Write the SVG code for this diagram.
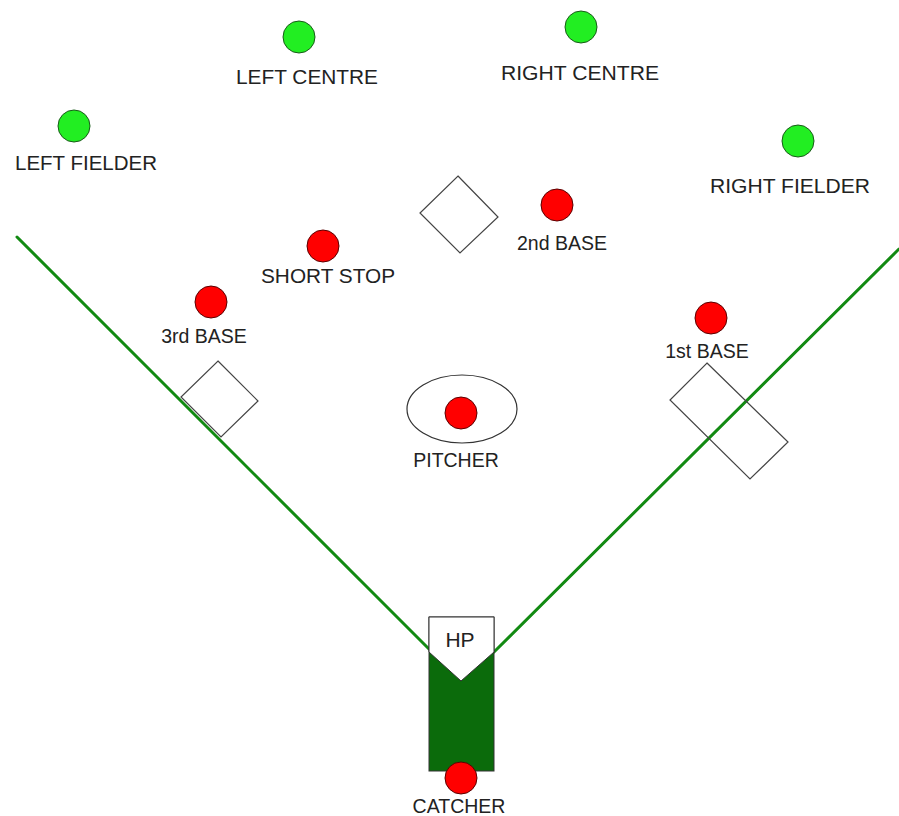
<svg xmlns="http://www.w3.org/2000/svg" width="899" height="816" viewBox="0 0 899 816">
<style>
.txt{font-family:"Liberation Sans",Arial,sans-serif;font-size:19.5px;fill:#222;text-anchor:middle}
.red{fill:#ff0000;stroke:#5a0000;stroke-width:1}
.grn{fill:#22ee22;stroke:#1a5a1a;stroke-width:1}
.base{fill:#fff;stroke:#444;stroke-width:1.2}
.line{stroke:#128a12;stroke-width:3;stroke-linecap:round;fill:none}
</style>
<rect width="899" height="816" fill="#fff"/>
<g id="connectors">
<line class="line" x1="17" y1="237" x2="429" y2="649"/>
<line class="line" x1="899" y1="249" x2="494" y2="652"/>
</g>
<g id="base3"><polygon class="base" points="218,361 258,401 221,437 181,397"/></g>
<g id="base2"><polygon class="base" points="458,176 498,217 460,253 420,213"/></g>
<g id="base1"><polygon class="base" points="707,363 788,442 750,479 670,400" style="fill:none"/></g>
<g id="mound"><ellipse cx="462" cy="409" rx="55" ry="34" fill="#fff" stroke="#333" stroke-width="1.2"/></g>
<g id="homeplate">
<rect x="429" y="617" width="65" height="154" fill="#0b6b0b" stroke="#333" stroke-width="1"/>
<polygon points="429,617 494,617 494,652 461,681 429,652" fill="#fff" stroke="#333" stroke-width="1"/>
<text class="txt" x="460" y="647" style="font-size:21px">HP</text>
</g>
<g id="left-centre"><circle class="grn" cx="299" cy="37" r="16"/><text class="txt" x="307" y="84" textLength="142" lengthAdjust="spacingAndGlyphs">LEFT CENTRE</text></g>
<g id="right-centre"><circle class="grn" cx="581" cy="27" r="16"/><text class="txt" x="580" y="80" textLength="158" lengthAdjust="spacingAndGlyphs">RIGHT CENTRE</text></g>
<g id="left-fielder"><circle class="grn" cx="74" cy="126" r="16"/><text class="txt" x="86" y="170" textLength="142" lengthAdjust="spacingAndGlyphs">LEFT FIELDER</text></g>
<g id="right-fielder"><circle class="grn" cx="798" cy="141" r="16"/><text class="txt" x="790" y="193" textLength="160" lengthAdjust="spacingAndGlyphs">RIGHT FIELDER</text></g>
<g id="second-base"><circle class="red" cx="557" cy="205" r="16"/><text class="txt" x="562" y="250">2nd BASE</text></g>
<g id="short-stop"><circle class="red" cx="323" cy="246" r="16"/><text class="txt" x="328" y="283" textLength="134" lengthAdjust="spacingAndGlyphs">SHORT STOP</text></g>
<g id="third-base"><circle class="red" cx="211" cy="302" r="16"/><text class="txt" x="204" y="343">3rd BASE</text></g>
<g id="first-base"><circle class="red" cx="711" cy="318" r="16"/><text class="txt" x="707" y="358">1st BASE</text></g>
<g id="pitcher"><circle class="red" cx="461" cy="413" r="16"/><text class="txt" x="456" y="467">PITCHER</text></g>
<g id="catcher"><circle class="red" cx="461" cy="778" r="16"/><text class="txt" x="459" y="813">CATCHER</text></g>
</svg>
